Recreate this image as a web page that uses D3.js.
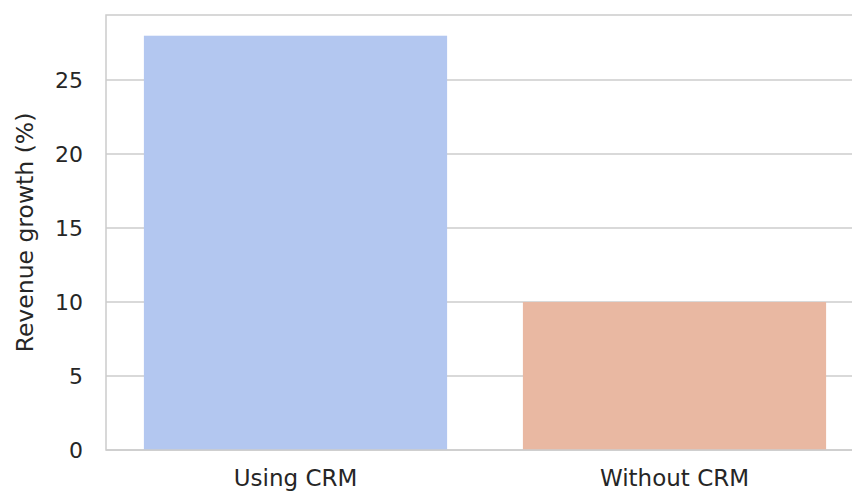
<!DOCTYPE html>
<html>
<head>
<meta charset="utf-8">
<script src="https://cdn.jsdelivr.net/npm/d3@7"></script>
<style>
  html, body { margin: 0; padding: 0; background: #ffffff; }
  svg { display: block; }
  text { font-family: "DejaVu Sans", sans-serif; fill: #262626; }
</style>
</head>
<body>
<svg id="chart" width="852" height="491"></svg>
<script>
// Revenue growth by CRM usage
const categories = ["Using CRM", "Without CRM"];
const growth = [28, 10];
const barColors = ["#b3c7f0", "#e9b8a2"];
const yTicks = [0, 5, 10, 15, 20, 25];
const yLabel = "Revenue growth (%)";

const svg = d3.select("#chart");
const margin = { left: 106, top: 15, bottom: 41 };
const plotW = 758;
const plotH = 491 - margin.top - margin.bottom;

const yMax = d3.max(growth) * 1.05;

const x = d3.scaleBand()
  .domain(categories)
  .range([margin.left, margin.left + plotW])
  .paddingInner(0.2)
  .paddingOuter(0.1);

const y = d3.scaleLinear()
  .domain([0, yMax])
  .range([margin.top + plotH, margin.top]);

const grid = "#cccccc";

// horizontal gridlines
svg.append("g")
  .selectAll("line")
  .data(yTicks)
  .join("line")
  .attr("x1", margin.left)
  .attr("x2", margin.left + plotW)
  .attr("y1", d => y(d))
  .attr("y2", d => y(d))
  .attr("stroke", grid)
  .attr("stroke-width", 1.5);

// bars
svg.append("g")
  .selectAll("rect")
  .data(categories)
  .join("rect")
  .attr("x", d => x(d))
  .attr("width", x.bandwidth())
  .attr("y", (d, i) => y(growth[i]))
  .attr("height", (d, i) => y(0) - y(growth[i]))
  .attr("fill", (d, i) => barColors[i]);

// frame
svg.append("rect")
  .attr("x", margin.left)
  .attr("y", margin.top)
  .attr("width", plotW)
  .attr("height", plotH)
  .attr("fill", "none")
  .attr("stroke", grid)
  .attr("stroke-width", 1.5);

// y axis labels
const yAxis = d3.axisLeft(y).tickValues(yTicks).tickSize(0).tickPadding(23);
const gy = svg.append("g")
  .attr("transform", `translate(${margin.left},0)`)
  .call(yAxis);
gy.select(".domain").remove();
gy.selectAll("text")
  .style("font-size", "22px")
  .style("font-family", "DejaVu Sans, sans-serif")
  .attr("fill", "#262626");

// x axis labels
const xAxis = d3.axisBottom(x).tickSize(0).tickPadding(20);
const gx = svg.append("g")
  .attr("transform", `translate(0,${margin.top + plotH})`)
  .call(xAxis);
gx.select(".domain").remove();
gx.selectAll("text")
  .style("font-size", "23px")
  .style("font-family", "DejaVu Sans, sans-serif")
  .attr("fill", "#262626");

// y axis title
svg.append("text")
  .attr("transform", `translate(33,${y(yMax / 2)}) rotate(-90)`)
  .attr("text-anchor", "middle")
  .style("font-size", "23.5px")
  .text(yLabel);
</script>
</body>
</html>
